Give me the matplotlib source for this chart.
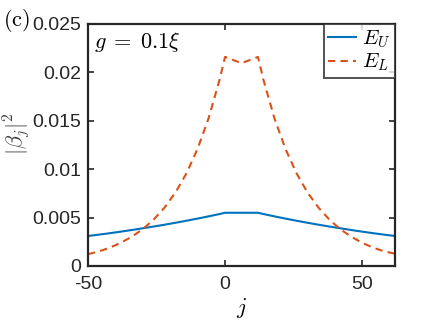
import matplotlib
matplotlib.use("Agg")
import matplotlib.pyplot as plt

plt.rcParams['mathtext.fontset'] = 'cm'
plt.rcParams['font.family'] = ['Liberation Sans', 'DejaVu Sans']
plt.rcParams['axes.unicode_minus'] = False

j = [-50, -46, -42, -38, -34, -30, -26, -22, -18, -14, -10, -6, -2, 0, 6, 12,
     14, 18, 22, 26, 30, 34, 38, 42, 46, 50, 54, 58, 62]
E_U = [0.00310, 0.00324, 0.00339, 0.00355, 0.00372, 0.00390, 0.00408, 0.00427,
       0.00447, 0.00468, 0.00490, 0.00513, 0.00537, 0.00550, 0.00550, 0.00550,
       0.00537, 0.00513, 0.00490, 0.00468, 0.00447, 0.00427, 0.00408, 0.00390,
       0.00372, 0.00355, 0.00339, 0.00324, 0.00310]
E_L = [0.00122, 0.00151, 0.00190, 0.00240, 0.00303, 0.00381, 0.00481, 0.00606,
       0.00763, 0.00962, 0.01212, 0.01527, 0.01924, 0.02160, 0.02095, 0.02160,
       0.01924, 0.01527, 0.01212, 0.00962, 0.00763, 0.00606, 0.00481, 0.00381,
       0.00303, 0.00240, 0.00190, 0.00151, 0.00128]
xticks = [-50, 0, 50]
yticks = [0, 0.005, 0.01, 0.015, 0.02, 0.025]
yticklabels = ['0', '0.005', '0.01', '0.015', '0.02', '0.025']

fig = plt.figure(figsize=(4.36, 3.27), dpi=100)
ax = fig.add_axes([88/436, 1-266/327, (395-88)/436, (266-24)/327])
ax.plot(j, E_U, color='#0072BD', lw=1.5, label='$E_U$')
ax.plot(j, E_L, color='#D95319', lw=1.5, ls=(0, (3.5, 2.5)), label='$E_L$')
ax.set_xlim(-50, 62)
ax.set_ylim(0, 0.025)
ax.set_xticks(xticks)
ax.set_yticks(yticks)
ax.set_yticklabels(yticklabels)
ax.tick_params(direction='in', length=4, width=1.2, top=True, right=True,
               labelsize=14, colors='#262626')
ax.tick_params(axis='x', pad=7)
ax.tick_params(axis='y', pad=5)
for s in ax.spines.values():
    s.set_linewidth(1.6)
    s.set_color('#262626')
ax.set_xlabel('$j$', fontsize=16, labelpad=2)
fig.text(17/436, 1-134/327, r'$|\beta_j|^2$', fontsize=16, color='#444444',
         rotation=90, ha='center', va='center')
ax.text(0.018, 0.975, r'$g\;=\;0.1\xi$', transform=ax.transAxes, fontsize=16,
        va='top', ha='left')
fig.text(3/436, 1-20/327, r'$\mathrm{(c)}$', fontsize=16,
         va='center', ha='left')
leg = ax.legend(loc='upper right', fontsize=15, frameon=True, fancybox=False,
                borderaxespad=0, handlelength=1.35, handletextpad=0.3,
                borderpad=0.2, labelspacing=0.1)
leg.get_frame().set_edgecolor('#262626')
leg.get_frame().set_linewidth(1.4)
fig.savefig('out.png', dpi=100)
